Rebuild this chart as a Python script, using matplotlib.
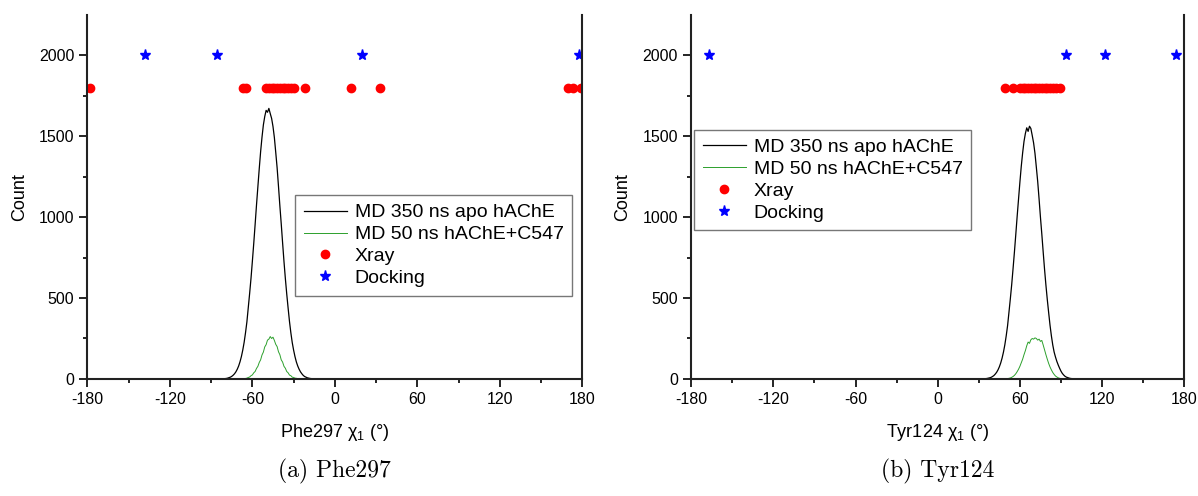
import numpy as np
import matplotlib
matplotlib.use("Agg")
import matplotlib.pyplot as plt

plt.rcParams['font.family'] = ['Liberation Sans', 'DejaVu Sans']
plt.rcParams['axes.unicode_minus'] = False

# ---- Phe297 ----
phe_apo_x = np.arange(-81, -14)
phe_apo = [1, 2, 3, 5, 8, 11, 16, 23, 32, 44,
           60, 80, 106, 138, 178, 226, 285, 352, 440, 528,
           622, 728, 838, 955, 1075, 1188, 1300, 1405, 1494, 1570,
           1622, 1660, 1648, 1672, 1640, 1610, 1560, 1492, 1400, 1305,
           1190, 1070, 958, 840, 725, 620, 525, 438, 355, 285,
           225, 178, 138, 105, 80, 60, 44, 32, 22, 15,
           11, 7, 5, 3, 2, 1, 0]
phe_c547_x = np.arange(-66, -25)
phe_c547 = [2, 3, 5, 9, 12, 20, 25, 38, 46, 65,
            78, 102, 118, 148, 166, 198, 212, 240, 246, 262,
            250, 258, 238, 214, 200, 168, 150, 118, 104, 78,
            66, 46, 38, 24, 20, 11, 9, 5, 4, 2, 1]
phe_xray = [-178, -67, -65, -50, -48, -46, -44, -42, -40, -38, -36, -34,
            -32, -30, -22, 12, 33, 170, 173, 179]
phe_dock = [-138, -86, 20, 178]

# ---- Tyr124 ----
tyr_apo_x = np.arange(34, 101)
tyr_apo = [1, 2, 3, 5, 7, 10, 15, 21, 30, 41,
           56, 75, 99, 129, 166, 211, 266, 329, 411, 494,
           582, 681, 784, 893, 1005, 1111, 1216, 1314, 1397, 1468,
           1517, 1552, 1530, 1562, 1548, 1505, 1459, 1395, 1309, 1220,
           1113, 1000, 896, 785, 678, 580, 491, 410, 332, 266,
           210, 166, 135, 108, 86, 66, 48, 34, 24, 16,
           11, 8, 5, 3, 2, 1, 0]
tyr_c547_x = np.arange(50, 92)
tyr_c547 = [1, 2, 4, 6, 10, 15, 22, 32, 45, 60,
            78, 100, 122, 150, 175, 205, 228, 220, 242, 250,
            246, 254, 250, 240, 246, 232, 238, 210, 180, 150,
            122, 96, 74, 56, 40, 28, 18, 12, 7, 4, 2, 1]
tyr_xray = [49, 55, 60, 62, 64, 66, 68, 70, 72, 74, 76, 78, 80, 82, 84, 86, 89]
tyr_dock = [-167, 94, 122, 174]

xray_y = 1800
dock_y = 2000

fig = plt.figure(figsize=(11.98, 4.96), dpi=100)
ax1 = fig.add_axes([0.073, 0.236, 0.413, 0.734])
ax2 = fig.add_axes([0.577, 0.236, 0.4115, 0.734])


def panel(ax, ax_x, apo, cx, c547, xray, dock, resname, caption, leg_loc, leg_anchor):
    ax.plot(ax_x, apo, color='black', lw=0.9, label='MD 350 ns apo hAChE')
    ax.plot(cx, c547, color='#2ca02c', lw=0.7, label='MD 50 ns hAChE+C547')
    ax.plot(xray, [xray_y] * len(xray), 'o', color='red', ms=6, label='Xray')
    ax.plot(dock, [dock_y] * len(dock), '*', color='blue', ms=8, label='Docking')
    ax.set_xlim(-180, 180)
    ax.set_ylim(0, 2250)
    ax.set_xticks(np.arange(-180, 181, 60))
    ax.set_xticks(np.arange(-150, 180, 60), minor=True)
    ax.set_yticks(np.arange(0, 2001, 500))
    ax.set_yticks(np.arange(250, 2250, 500), minor=True)
    ax.tick_params(which='major', direction='out', length=6, width=1.2, labelsize=11.5)
    ax.tick_params(which='minor', direction='out', length=3, width=1.2)
    for s in ['left', 'bottom', 'right']:
        ax.spines[s].set_linewidth(1.5)
        ax.spines[s].set_color('#222222')
    ax.spines['top'].set_visible(False)
    ax.set_ylabel('Count', fontsize=13, labelpad=8)
    ax.set_xlabel(resname + r' $\mathregular{\chi_1}$ (°)', fontsize=13, labelpad=11)
    leg = ax.legend(loc=leg_loc, bbox_to_anchor=leg_anchor, fontsize=14,
                    fancybox=False, edgecolor='#777777', framealpha=1,
                    handlelength=2.2, borderpad=0.45, labelspacing=0.22,
                    handletextpad=0.4, borderaxespad=0)
    leg.get_frame().set_linewidth(1.0)
    ax.text(0.5, -0.255, caption, transform=ax.transAxes, ha='center', va='center',
            fontsize=17, family='cmr10')


panel(ax1, phe_apo_x, phe_apo, phe_c547_x, phe_c547, phe_xray, phe_dock,
      'Phe297', '(a) Phe297', 'upper right', (0.98, 0.505))
panel(ax2, tyr_apo_x, tyr_apo, tyr_c547_x, tyr_c547, tyr_xray, tyr_dock,
      'Tyr124', '(b) Tyr124', 'upper left', (0.006, 0.685))

fig.savefig('out.png', dpi=100)
